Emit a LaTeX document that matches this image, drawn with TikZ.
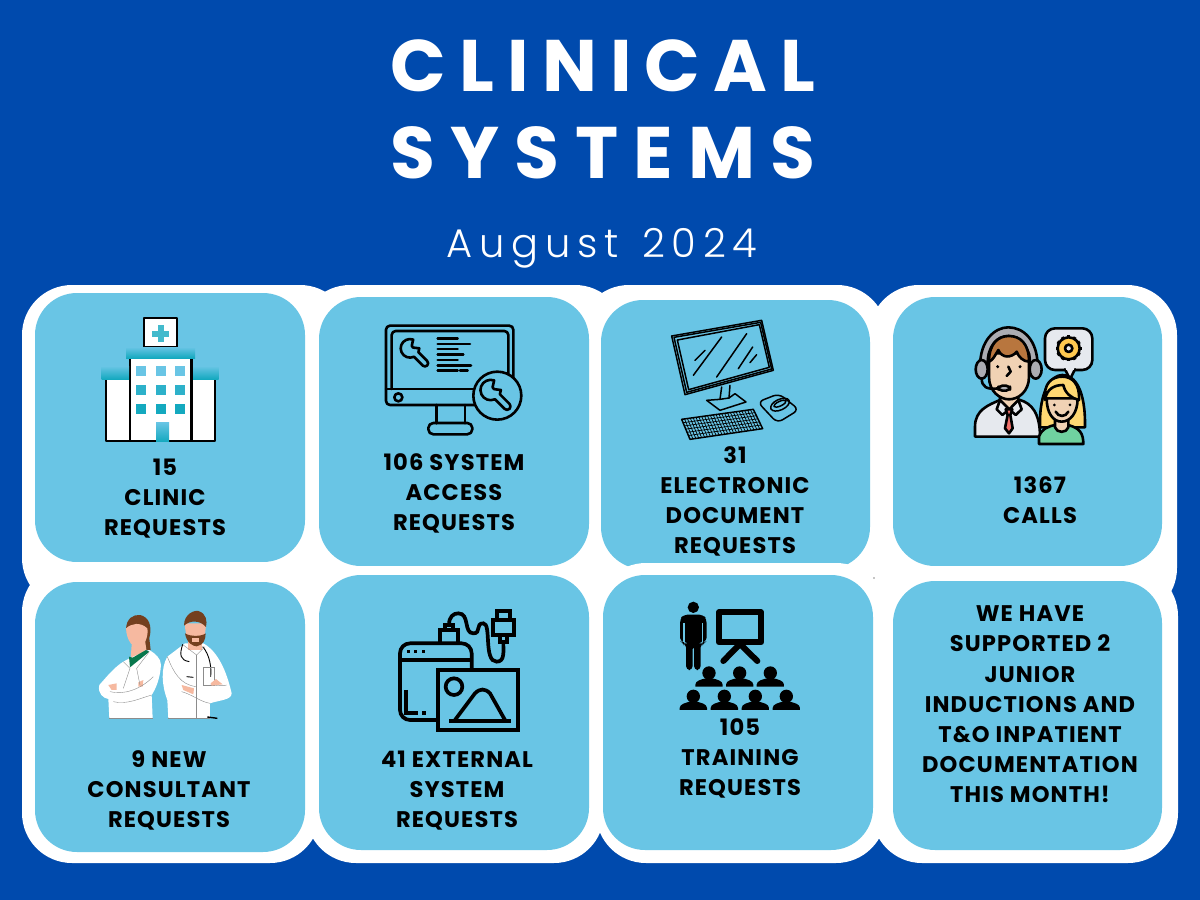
\documentclass[tikz,border=0pt]{standalone}
\usepackage{fontspec}
\usetikzlibrary{calc}
\setmainfont{Poppins}
\newfontfamily\titlefont[LetterSpace=21]{Poppins}
\newfontfamily\titlefontB[LetterSpace=18]{Poppins}
\newfontfamily\subfont[LetterSpace=17,WordSpace=1.3]{Poppins Light}
\newfontfamily\cardfont[LetterSpace=5]{Poppins}
\definecolor{pageblue}{HTML}{004AAD}
\definecolor{cardblue}{HTML}{69C5E5}
\definecolor{teal}{HTML}{14A9BF}
\definecolor{skin}{HTML}{F0D2B4}
\definecolor{docskin}{HTML}{F6B9A0}
\definecolor{hairbrown}{HTML}{B8763E}
\definecolor{darkbrown}{HTML}{74401F}
\definecolor{headgrey}{HTML}{ABACB2}
\definecolor{shirtgrey}{HTML}{E6E9EE}
\definecolor{tiered}{HTML}{F0706A}
\definecolor{hairyellow}{HTML}{FFD873}
\definecolor{gearyellow}{HTML}{FFC950}
\definecolor{topgreen}{HTML}{70D2A0}
\tikzset{
  backing/.style={fill=white,rounded corners=25pt},
  card/.style={fill=cardblue,rounded corners=21pt},
  cardtext/.style={font=\cardfont\bfseries\fontsize{11.3}{15.1}\selectfont,align=center,text=black,inner sep=0pt},
  iconline/.style={draw=black,line width=1.3pt,line join=round,line cap=round},
  thickline/.style={draw=black,line width=1.85pt,line join=miter},
  sketchline/.style={draw=black,line width=.75pt,line join=round,line cap=round},
  coatline/.style={draw=black!45,line width=.2pt},
  wrench/.pic={
    \draw[iconline,fill=cardblue] (-45:9) arc (-45:-20:9) -- ++(12,0) arc (-90:90:3.08) -- (20:9)
      arc (20:245:9) -- (-100:3) -- (-60:3) -- cycle;
  },
  learner/.pic={
    \fill (0,-41) circle (20);
    \fill (-10,-35) rectangle (10,-15);
    \fill (-41,0) -- (-41,-6) .. controls (-41,-18) and (-22,-22) .. (-10,-25) -- (10,-25) .. controls (22,-22) and (41,-18) .. (41,-6) -- (41,0) -- cycle;
  }
}
\begin{document}
\begin{tikzpicture}[x=0.5pt,y=-0.5pt]
\useasboundingbox (0,0) rectangle (1200,900);
\fill[pageblue] (0,0) rectangle (1200,900);

%Title
\node[anchor=base,text=white,inner sep=0pt,font=\titlefontB\bfseries\fontsize{36.5}{40}\selectfont] (titleA) at (603,91) {CLINICAL};
\node[anchor=base,text=white,inner sep=0pt,font=\titlefont\bfseries\fontsize{36.5}{40}\selectfont] (titleB) at (603,178) {SYSTEMS};
\node[anchor=base,text=white,inner sep=0pt,font=\subfont\fontsize{20}{22}\selectfont] (titleC) at (602,257) {August 2024};

%White backing, first row
\fill[backing] (22,285) rectangle (350,608);
\fill[backing] (300,285) rectangle (625,608);
\fill[backing] (579,285) rectangle (887,608);
\fill[backing] (869,285) rectangle (1177,618);

%First row cards
\fill[card] (35,293) rectangle (305,562);
\fill[card] (319,297) rectangle (589,566);
\fill[card] (601,300) rectangle (870,569);
\fill[card] (893,297) rectangle (1162,566);

%White backing, second row
\fill[backing] (22,562) rectangle (320,863);
\fill[backing] (306,566) rectangle (604,863);
\fill[backing] (596,563) rectangle (886,863);
\fill[backing] (872,566) rectangle (1178,863);
\fill[black!45] (874,578) circle (.8);

%Second row cards
\fill[card] (35,582) rectangle (305,852);
\fill[card] (319,575) rectangle (589,850);
\fill[card] (603,575) rectangle (873,850);
\fill[card] (893,581) rectangle (1162,850);

%Labels
\node[cardtext] (clinic) at (165,498.5) {15\\CLINIC\\REQUESTS};
\node[cardtext] (access) at (454,493.5) {106 SYSTEM\\ACCESS\\REQUESTS};
\node[cardtext] (document) at (735,501.5) {31\\ELECTRONIC\\DOCUMENT\\REQUESTS};
\node[cardtext] (calls) at (1040,500) {1367\\CALLS};
\node[cardtext] (consultant) at (169,790.5) {9 NEW\\CONSULTANT\\REQUESTS};
\node[cardtext] (external) at (457,790.5) {41 EXTERNAL\\SYSTEM\\REQUESTS};
\node[cardtext] (training) at (740,758.5) {105\\TRAINING\\REQUESTS};
\node[cardtext] (supported) at (1030,704.5) {WE HAVE\\SUPPORTED 2\\JUNIOR\\INDUCTIONS AND\\T\&O INPATIENT\\DOCUMENTATION\\THIS MONTH!};

%Hospital
\filldraw[iconline,fill=white] (144,318) rectangle (177,347);
\fill[teal!80] (157.5,325) rectangle (163.5,342);
\fill[teal!80] (152,330.5) rectangle (169,336.5);
\filldraw[iconline,fill=white] (106,375) rectangle (215,441);
\filldraw[iconline,fill=white] (130,352) rectangle (191.5,441);
\shade[top color=cardblue,bottom color=teal] (126,347) rectangle (195,358);
\shade[top color=cardblue,bottom color=teal] (101.5,366) rectangle (129,379);
\shade[top color=cardblue,bottom color=teal] (193,366) rectangle (218.5,379);
\foreach \x in {140.6,160.5,180} {
  \fill[cardblue] (\x-5,366) rectangle (\x+5,376);
  \fill[teal!70!cardblue] (\x-5,385) rectangle (\x+5,395);
  \fill[teal] (\x-5,404) rectangle (\x+5,414);
}
\shade[top color=cardblue,bottom color=teal] (156,422) rectangle (169,441.5);

%Monitor with wrenches
\begin{scope}[shift={(375,315)},scale=.3333]
\draw[iconline,rounded corners=2pt] (33,270) -- (33,32) -- (415,32) -- (415,270) -- cycle;
\draw[iconline,rounded corners=2pt] (50,222) -- (50,48) -- (400,48) -- (400,222);
\draw[iconline] (33,222) -- (415,222);
\draw[iconline] (70,247) circle (12);
\draw[iconline] (185,270) -- (185,325);
\draw[iconline] (270,270) -- (270,325);
\draw[iconline,rounded corners=2.5pt] (160,324) rectangle (292,358);
\foreach \y/\e in {70/248,87/285,102/248,119/265,135/248,151/288,167/248} {
  \draw[iconline] (188,\y) -- (\e,\y);
}
\draw[iconline] (255,167) -- (278,167);
\pic[transform shape,rotate=-45,scale=3.1] at (105,100) {wrench};
\filldraw[iconline,fill=cardblue] (367,242) circle (72);
\pic[transform shape,rotate=-45,scale=3.4] at (347,225) {wrench};
\end{scope}

%Sketched computer
\begin{scope}[shift={(660,312)},scale=.3333]
\draw[sketchline] (35,72) -- (305,25) -- (340,175) -- (75,248) -- cycle;
\draw[sketchline] (42,76) -- (302,31) -- (335,171) -- (80,241) -- cycle;
\draw[sketchline] (52,84) -- (298,38) -- (328,166) -- (86,233) -- cycle;
\draw[sketchline] (105,145) -- (135,115);
\draw[sketchline] (100,190) -- (185,75);
\draw[sketchline] (170,195) -- (260,65);
\draw[sketchline] (235,170) -- (278,105);
\draw[sketchline] (270,152) -- (290,128);
\draw[sketchline] (185,225) -- (180,262);
\draw[sketchline] (210,220) -- (207,258);
\draw[sketchline] (140,265) -- (180,262) -- (207,258) -- (225,245) -- (258,270) -- (180,295) -- cycle;
\coordinate (kbA) at (65,322);
\coordinate (kbB) at (280,292);
\coordinate (kbC) at (308,350);
\coordinate (kbD) at (90,382);
\draw[sketchline] (kbA) -- (kbB) -- (kbC) -- (kbD) -- cycle;
\foreach \t in {0.04,0.08,...,0.97} {
  \draw[black,line width=.35pt] ($(kbA)!\t!(kbB)$) -- ($(kbD)!\t!(kbC)$);
}
\foreach \t in {0.17,0.33,...,0.9} {
  \draw[black,line width=.35pt] ($(kbA)!\t!(kbD)$) -- ($(kbB)!\t!(kbC)$);
}
\draw[sketchline,rounded corners=3pt] (293,270) -- (357,245) -- (417,293) -- (352,333) -- cycle;
\draw[sketchline,rotate around={25:(360,278)}] (360,278) ellipse (30 and 16);
\draw[sketchline,rotate around={25:(360,275)}] (360,275) ellipse (20 and 7);
\end{scope}

%Call centre people
\begin{scope}[shift={(965,320)},scale=.3333]
\filldraw[iconline,fill=shirtgrey] (30,350) -- (30,320) .. controls (30,270) and (70,255) .. (105,240) -- (165,240) .. controls (200,250) and (225,280) .. (225,350) -- cycle;
\filldraw[iconline,fill=skin] (105,215) -- (105,245) -- (133,270) -- (160,245) -- (160,215) -- cycle;
\filldraw[iconline,fill=shirtgrey] (105,240) -- (95,268) -- (112,285) -- (133,268) -- cycle;
\filldraw[iconline,fill=shirtgrey] (160,240) -- (170,268) -- (152,285) -- (133,268) -- cycle;
\filldraw[iconline,fill=tiered] (122,268) -- (142,268) -- (136,285) -- (143,325) -- (132,340) -- (120,325) -- (128,285) -- cycle;
\filldraw[iconline,fill=headgrey] (45,140) .. controls (45,60) and (90,22) .. (130,22) .. controls (175,22) and (218,60) .. (218,140) -- (195,130) .. controls (195,80) and (165,48) .. (130,48) .. controls (95,48) and (68,80) .. (68,130) -- cycle;
\filldraw[iconline,fill=skin] (72,100) -- (72,170) .. controls (72,215) and (105,238) .. (132,238) .. controls (160,238) and (192,215) .. (192,170) -- (192,100) -- cycle;
\filldraw[iconline,fill=hairbrown] (72,125) .. controls (72,70) and (100,48) .. (132,48) .. controls (165,48) and (192,70) .. (192,125) .. controls (175,125) and (160,110) .. (155,95) .. controls (140,115) and (110,115) .. (100,90) .. controls (90,105) and (85,120) .. (72,125) -- cycle;
\filldraw[iconline,fill=headgrey] (50,148) ellipse (18 and 28);
\filldraw[iconline,fill=headgrey] (212,148) ellipse (18 and 28);
\fill (98,140) circle (5);
\fill (165,140) circle (5);
\draw[iconline] (130,140) -- (137,155) -- (125,168);
\draw[iconline] (50,175) .. controls (50,200) and (65,210) .. (100,205);
\filldraw[iconline,fill=headgrey,rounded corners=2pt] (100,197) rectangle (135,212);
\filldraw[iconline,fill=shirtgrey,rounded corners=5pt] (240,25) rectangle (382,150);
\filldraw[iconline,fill=shirtgrey] (300,148) -- (315,178) -- (330,148);
\fill[shirtgrey] (303,140) rectangle (327,150);
\foreach \a in {0,30,...,330} {
  \draw[black,line width=1.6pt] (311,85) ++(\a:32) -- ++(\a:7);
}
\filldraw[iconline,fill=gearyellow] (311,85) circle (33);
\filldraw[iconline,fill=shirtgrey] (311,85) circle (11);
\filldraw[iconline,fill=hairyellow] (225,322) .. controls (222,210) and (260,165) .. (292,165) .. controls (330,165) and (362,210) .. (360,322) -- cycle;
\filldraw[iconline,fill=topgreen] (222,372) -- (222,350) .. controls (230,325) and (255,318) .. (270,315) -- (310,315) .. controls (345,325) and (355,340) .. (355,372) -- cycle;
\filldraw[iconline,fill=skin] (270,290) -- (270,322) .. controls (275,340) and (305,340) .. (310,322) -- (310,290) -- cycle;
\filldraw[iconline,fill=skin] (245,235) .. controls (245,280) and (265,305) .. (290,305) .. controls (315,305) and (338,280) .. (338,235) -- cycle;
\filldraw[iconline,fill=hairyellow] (240,240) .. controls (245,205) and (270,195) .. (295,195) .. controls (300,220) and (320,235) .. (342,240) .. controls (345,190) and (320,170) .. (292,170) .. controls (260,170) and (235,190) .. (240,240) -- cycle;
\fill (268,255) circle (4.5);
\fill (315,255) circle (4.5);
\draw[iconline] (272,275) .. controls (280,292) and (302,292) .. (310,275);
\end{scope}

%Doctors
\begin{scope}[shift={(90,605)},scale=.3333]
%Woman
\fill[darkbrown] (108,75) .. controls (108,40) and (130,28) .. (150,30) .. controls (175,35) and (188,60) .. (178,100) -- (182,135) -- (168,135) -- (150,90) -- cycle;
\fill[docskin] (125,120) -- (122,160) -- (170,140) -- (165,105) -- cycle;
\fill[white] (58,340) -- (55,282) .. controls (40,280) and (22,265) .. (28,240) .. controls (50,215) and (75,185) .. (100,170) -- (122,158) -- (178,135) .. controls (195,145) and (213,160) .. (213,180) .. controls (210,225) and (195,255) .. (185,270) -- (188,340) -- cycle;
\fill[teal!50!black!80!green] (117,155) -- (120,187) -- (178,140) -- (168,135) -- (128,158) -- cycle;
\fill[docskin] (108,70) .. controls (110,110) and (130,130) .. (150,128) .. controls (170,115) and (175,85) .. (172,70) .. controls (150,50) and (125,55) .. (108,70) -- cycle;
\fill[docskin] (55,240) -- (80,235) -- (80,255) -- (65,255) -- cycle;
\fill[docskin] (145,232) -- (160,225) -- (158,245) -- (145,245) -- cycle;
\draw[coatline] (100,170) -- (120,190) -- (100,250);
\draw[coatline] (178,140) -- (140,190) -- (150,240);
\draw[coatline] (60,260) .. controls (100,270) and (150,255) .. (190,215);
\draw[coatline] (70,290) .. controls (110,300) and (150,280) .. (185,270);
\draw[coatline] (58,340) -- (188,340);
%Man
\fill[white] (235,340) -- (232,285) .. controls (215,240) and (212,190) .. (232,155) -- (285,115) -- (340,115) .. controls (385,140) and (410,200) .. (425,265) .. controls (425,285) and (390,285) .. (360,295) -- (360,340) -- cycle;
\fill[docskin] (295,100) rectangle (335,135);
\fill[docskin] (285,55) .. controls (285,100) and (300,118) .. (320,118) .. controls (340,115) and (347,90) .. (348,55) -- cycle;
\fill[darkbrown] (282,62) .. controls (282,25) and (315,15) .. (325,18) .. controls (350,25) and (352,50) .. (348,66) .. controls (330,45) and (300,45) .. (282,62) -- cycle;
\fill[darkbrown] (285,85) .. controls (290,115) and (310,124) .. (320,124) .. controls (340,120) and (347,105) .. (347,85) .. controls (335,95) and (300,95) .. (285,85) -- cycle;
\fill[docskin] (305,98) rectangle (328,110);
\draw[black,line width=.45pt] (278,118) .. controls (268,150) and (270,165) .. (298,170);
\draw[black,line width=.45pt] (338,125) .. controls (360,150) and (365,190) .. (362,215);
\draw[black,line width=.45pt] (290,215) -- (310,217);
\draw[coatline] (280,120) -- (320,150) -- (345,125);
\draw[coatline] (318,150) -- (318,340);
\draw[coatline] (340,188) rectangle (372,240);
\draw[coatline] (232,155) .. controls (250,200) and (270,240) .. (320,245);
\draw[coatline] (275,260) .. controls (310,270) and (330,290) .. (360,295);
\draw[coatline] (360,240) .. controls (380,240) and (400,245) .. (410,240);
\fill[docskin] (275,240) -- (312,250) -- (310,268) -- (280,255) -- cycle;
\fill[docskin] (362,235) -- (378,222) -- (398,238) -- (365,242) -- cycle;
\draw[black,line width=.7pt] (352,336) -- (382,340);
\draw[coatline] (235,340) -- (360,340);
\end{scope}

%External system
\begin{scope}[shift={(390,605)},scale=.3333]
\draw[thickline,rounded corners=5pt] (145,345) -- (30,345) -- (30,115) -- (245,115) -- (245,195);
\draw[thickline] (30,165) -- (245,165);
\foreach \x in {55,77,100} {
  \fill (\x-5,135) rectangle (\x+5,145);
}
\draw[thickline] (48,255) -- (48,325) -- (85,325);
\fill (97,318) rectangle (109,330);
\draw[thickline] (150,115) -- (150,75) -- (205,75) -- (205,115);
\draw[thickline] (165,75) -- (165,60) -- (190,60) -- (190,75);
\draw[thickline] (177,60) .. controls (177,35) and (190,25) .. (205,25) .. controls (240,25) and (220,85) .. (250,85) .. controls (275,85) and (255,55) .. (280,55) .. controls (305,55) and (280,170) .. (320,170) .. controls (345,170) and (340,140) .. (340,110);
\draw[thickline] (310,45) rectangle (372,90);
\draw[thickline] (322,45) -- (322,18) -- (360,18) -- (360,45);
\filldraw[thickline,fill=cardblue] (330,90) rectangle (350,110);
\filldraw[thickline,fill=cardblue] (145,195) rectangle (385,375);
\draw[thickline] (192,245) circle (25);
\draw[thickline] (195,345) -- (255,265) .. controls (270,250) and (285,250) .. (300,265) -- (345,345);
\draw[thickline] (178,347) -- (362,347);
\end{scope}

%Training
\begin{scope}[shift={(670,600)},scale=.3333]
\fill (70,22) circle (17);
\fill[rounded corners=2pt] (30,125) -- (30,58) -- (40,44) -- (100,44) -- (110,58) -- (110,125) -- (98,125) -- (98,130) -- (92,130) -- (92,210) -- (72,210) -- (72,135) -- (68,135) -- (68,210) -- (48,210) -- (48,130) -- (42,130) -- (42,125) -- cycle;
\draw[cardblue,line width=.6pt] (42,70) -- (42,125);
\draw[cardblue,line width=.6pt] (98,70) -- (98,125);
\draw[black,line width=3pt,line join=round] (147,37) rectangle (273,127);
\draw[black,line width=3pt,line cap=round] (210,132) -- (160,183);
\draw[black,line width=3pt,line cap=round] (210,132) -- (262,183);
\foreach \x in {117,209,301} {
  \pic[transform shape] at (\x,260) {learner};
}
\foreach \x in {70,163,256,349} {
  \pic[transform shape] at (\x,330) {learner};
}
\end{scope}
\end{tikzpicture}
\end{document}
